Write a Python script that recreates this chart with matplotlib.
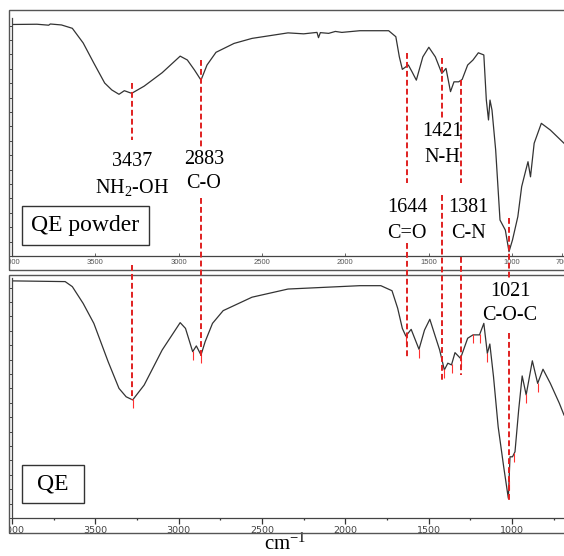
import numpy as np
import matplotlib.pyplot as plt
from matplotlib.patches import Rectangle
from matplotlib.lines import Line2D
from matplotlib.transforms import blended_transform_factory

plt.rcParams['mathtext.fontset'] = 'custom'
plt.rcParams['mathtext.rm'] = 'Liberation Serif'
plt.rcParams['mathtext.it'] = 'Liberation Serif:italic'
SERIF = 'Liberation Serif'

# QE powder spectrum (wavenumber, transmittance a.u.)
top_wn = [4000, 3850, 3780, 3770, 3703, 3638, 3573, 3509, 3444, 3401, 3358, 3326, 3282,
          3207, 3099, 2991, 2948, 2905, 2866, 2830, 2776, 2668, 2560, 2344, 2250, 2170,
          2161, 2150, 2100, 2060, 2021, 1913, 1740, 1697, 1676, 1658, 1622, 1600, 1574,
          1535, 1499, 1460, 1421, 1396, 1369, 1348, 1320, 1299, 1266, 1234, 1202, 1169,
          1154, 1141, 1132, 1120, 1098, 1072, 1040, 1018, 997, 965, 942, 917, 904, 889,
          867, 824, 770, 688]
top_t = [96.5, 96.6, 96.2, 96.7, 96.3, 94.9, 88.8, 80.4, 72.1, 69.2, 67.4, 68.9, 67.8,
         70.8, 76.4, 83.3, 81.7, 77.5, 73.3, 79.6, 84.9, 88.6, 90.7, 93.0, 92.6, 93.2,
         91.0, 93.1, 92.8, 93.6, 93.2, 93.9, 93.9, 91.4, 83.0, 77.8, 79.6, 76.8, 73.3,
         83.0, 87.0, 83.0, 76.1, 78.2, 68.5, 72.6, 72.6, 73.6, 79.6, 81.7, 84.7, 83.8,
         65.0, 56.7, 65.0, 60.8, 44.2, 15.0, 10.8, 1.8, 6.7, 16.4, 28.9, 35.8, 39.3, 33.0,
         47.0, 55.3, 52.5, 47.0]

# QE spectrum
bot_wn = [4000, 3681, 3638, 3573, 3509, 3423, 3358, 3315, 3276, 3207, 3099, 2991, 2959,
          2916, 2894, 2866, 2841, 2797, 2733, 2560, 2344, 2129, 1913, 1787, 1720, 1686,
          1658, 1637, 1605, 1558, 1525, 1493, 1460, 1434, 1406, 1385, 1363, 1342, 1309,
          1266, 1234, 1195, 1169, 1148, 1133, 1111, 1083, 1050, 1022, 1012, 997, 982,
          960, 939, 915, 878, 846, 814, 770, 716, 688]
bot_t = [98.8, 98.5, 96.4, 89.4, 81.1, 65.1, 54.0, 50.5, 49.2, 55.4, 70.0, 81.4, 79.0,
         69.3, 71.7, 67.9, 73.5, 81.1, 86.4, 92.0, 95.4, 96.1, 96.8, 96.8, 94.7, 87.4,
         79.0, 75.8, 78.6, 70.3, 78.3, 82.8, 75.6, 70.0, 61.7, 64.5, 63.8, 68.9, 66.5,
         74.9, 76.3, 76.3, 81.1, 68.6, 72.5, 58.9, 38.0, 21.4, 8.2, 25.5, 25.5, 27.6,
         45.0, 59.2, 51.3, 65.5, 56.1, 62.0, 56.1, 47.8, 42.9]

# peak picks marked on the QE spectrum
bot_peaks = [3276, 2916, 2866, 1637, 1558, 1406, 1363, 1309, 1234, 1195, 1148, 1018,
             987, 915, 846]

# x tick labels
top_ticks = [4000, 3500, 3000, 2500, 2000, 1500, 1000, 700]
bot_ticks = [4000, 3500, 3000, 2500, 2000, 1500, 1000]

# dashed guide lines: axis position, label number, group
guide_wn = [3278, 2866, 1630, 1420, 1307, 1020]
guide_num = ['3437', '2883', '1644', '1421', '1381', '1021']
guide_grp = [r'NH$_2$-OH', 'C-O', 'C=O', 'N-H', 'C-N', 'C-O-C']

W, H = 564, 556
fig = plt.figure(figsize=(W / 100, H / 100), dpi=100)


def fx(px):
    return px / W


def fy(py):
    return 1 - py / H


ax1 = fig.add_axes([fx(12), fy(256), fx(W - 12), 238 / H])
ax2 = fig.add_axes([fx(12), fy(518), fx(W - 12), 240 / H])

ax1.plot(top_wn, top_t, color='#333333', lw=0.9)
ax2.plot(bot_wn, bot_t, color='#333333', lw=0.9)
ax1.set_ylim(0, 99.2)
ax2.set_ylim(0, 100)

pk_t = np.interp(bot_peaks, bot_wn[::-1], bot_t[::-1])
ax2.vlines(bot_peaks, pk_t - 3.5, pk_t + 0.3, color='#ff3030', lw=0.8)

for ax, ticks in ((ax1, top_ticks), (ax2, bot_ticks)):
    ax.set_xlim(4000, 688)
    for s in ('top', 'right'):
        ax.spines[s].set_visible(False)
    for s in ('left', 'bottom'):
        ax.spines[s].set_color('#444444')
        ax.spines[s].set_linewidth(0.9)
    ax.set_xticks(ticks)
    ax.set_yticks(np.arange(0, 100, 6))
    ax.set_yticklabels([])
    ax.tick_params(axis='y', direction='out', length=2, width=0.7, color='#444444')

ax1.tick_params(axis='x', direction='in', length=2, width=0.7, color='#666666',
                pad=2, labelsize=5.5, labelcolor='#555555')
for lab in ax1.get_xticklabels():
    lab.set_family('Liberation Sans')

ax2.set_xticks(np.arange(3750, 600, -500), minor=True)
ax2.tick_params(axis='x', which='major', length=4, width=0.9, pad=1.5,
                labelsize=6.8, labelcolor='#444444', color='#333333')
ax2.tick_params(axis='x', which='minor', length=1.5, width=0.9, color='#333333')

# mask the cropped left edge
fig.add_artist(Rectangle((0, 0), fx(9), 1, transform=fig.transFigure,
                         facecolor='white', edgecolor='none', zorder=5))

# outer frames
for top, bot in [(10, 270), (275, 533)]:
    fig.add_artist(Rectangle((fx(9), fy(bot)), fx(W), (bot - top) / H,
                             transform=fig.transFigure, fill=False,
                             edgecolor='#555555', lw=1.0, zorder=6))

# red dashed guide lines spanning both panels
tr = blended_transform_factory(ax1.transData, fig.transFigure)
segs = [[(83, 140), (265, 400)],
        [(60, 147), (198, 356)],
        [(53, 183), (243, 358)],
        [(58, 118), (195, 382)],
        [(80, 183), (257, 375)],
        [(218, 278), (333, 500)]]
for wn, ss in zip(guide_wn, segs):
    for a, b in ss:
        fig.add_artist(Line2D([wn, wn], [fy(a), fy(b)], transform=tr,
                              color='#e02020', lw=1.4, linestyle=(0, (3, 1.6)),
                              zorder=7))

# annotations (px centres of the number and group text)
lab_pos = [(132, 161, 188), (204, 160, 184), (407, 208, 233),
           (442, 132, 158), (468, 208, 233), (510, 292, 316)]
for (x, y1, y2), num, grp in zip(lab_pos, guide_num, guide_grp):
    fig.text(fx(x), fy(y1), num, family=SERIF, fontsize=14.5,
             ha='center', va='center', zorder=8)
    fig.text(fx(x), fy(y2), grp, family=SERIF, fontsize=14.5,
             ha='center', va='center', zorder=8)

# sample boxes
for (x0, y0, x1, y1), name in [((22, 206, 149, 245), 'QE powder'),
                               ((22, 465, 84, 503), 'QE')]:
    fig.add_artist(Rectangle((fx(x0), fy(y1)), fx(x1 - x0), (y1 - y0) / H,
                             transform=fig.transFigure, fill=False,
                             edgecolor='#333333', lw=1.0, zorder=8))
    fig.text(fx((x0 + x1) / 2), fy((y0 + y1) / 2), name, family=SERIF,
             fontsize=17, ha='center', va='center', zorder=8)

fig.text(fx(285), fy(555), r'cm$^{-1}$', family=SERIF, fontsize=15,
         ha='center', va='bottom')

fig.savefig('out.png', dpi=100)
